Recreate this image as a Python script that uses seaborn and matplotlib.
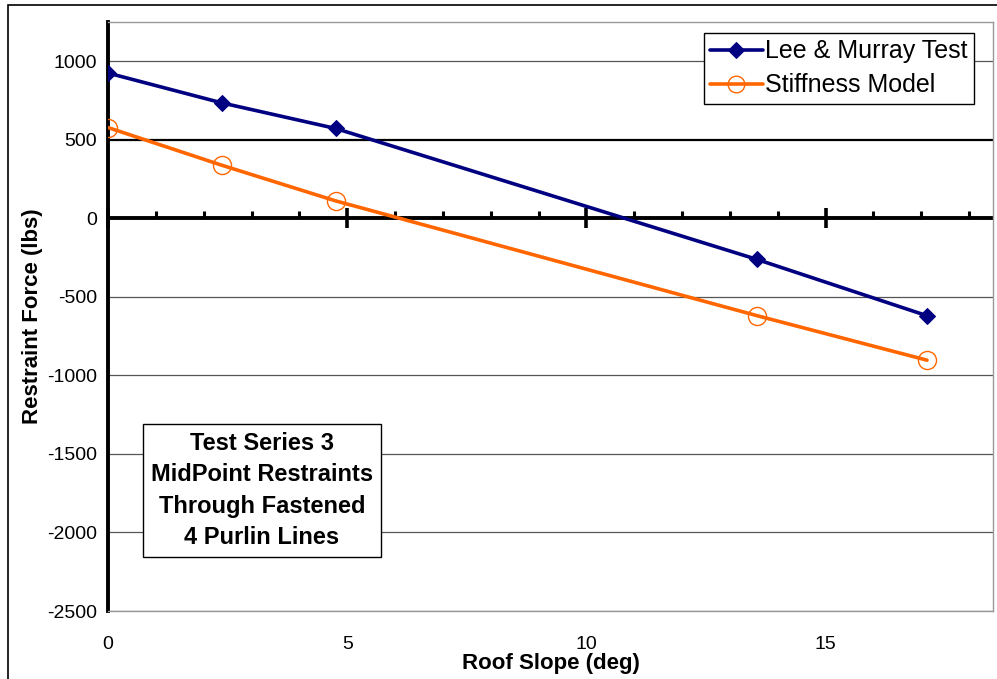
import numpy as np
import pandas as pd
import seaborn as sns
import matplotlib.pyplot as plt
from matplotlib.ticker import MultipleLocator
from matplotlib.patches import Rectangle

# values
slope_deg = [0, 2.38, 4.76, 13.57, 17.12]
lee_murray = [925, 735, 572, -262, -620]
stiffness = [578, 338, 111, -620, -903]
series_names = ["Lee & Murray Test", "Stiffness Model"]
y_ticks = [-2500, -2000, -1500, -1000, -500, 0, 500, 1000]
x_ticks = [0, 5, 10, 15]
note_text = "Test Series 3\nMidPoint Restraints\nThrough Fastened\n4 Purlin Lines"

NAVY = "#000080"
ORANGE = "#FF6600"

df = pd.DataFrame({
    "slope": slope_deg * 2,
    "force": lee_murray + stiffness,
    "series": [series_names[0]] * len(slope_deg) + [series_names[1]] * len(slope_deg),
})

sns.set_style("white")
plt.rcParams["font.family"] = ["Liberation Sans", "DejaVu Sans"]
plt.rcParams["axes.unicode_minus"] = False
plt.rcParams["text.color"] = "black"
plt.rcParams["axes.labelcolor"] = "black"
plt.rcParams["xtick.color"] = "black"
plt.rcParams["ytick.color"] = "black"

fig = plt.figure(figsize=(9.97, 6.79), dpi=100)
ax = fig.add_axes([108 / 997, 1 - 611 / 679, 885 / 997, 589 / 679])

# outer chart border (only top and left are in view)
fig.patches.append(Rectangle((8 / 997, -0.1), 1.2, 1.1 - 5 / 679,
                             transform=fig.transFigure, fill=False,
                             edgecolor="black", linewidth=1.2))

ax.set_xlim(0, 18.5)
ax.set_ylim(-2500, 1250)

# gridlines, the 500 one is drawn heavier like in the original
for yv in y_ticks:
    if yv == 0:
        continue
    ax.axhline(yv, color="black" if yv == 500 else "#555555",
               linewidth=1.6 if yv == 500 else 0.9, zorder=1)
ax.axhline(0, color="black", linewidth=2.8, zorder=2)

sns.lineplot(data=df, x="slope", y="force", hue="series",
             palette={series_names[0]: NAVY, series_names[1]: ORANGE},
             linewidth=2.6, ax=ax, zorder=3, legend=True)


def style_line(ln):
    c = ln.get_color()
    if not isinstance(c, str):
        return
    if c.lower() == ORANGE.lower():
        ln.set_marker("o")
        ln.set_markersize(13)
        ln.set_markerfacecolor("none")
        ln.set_markeredgecolor(ORANGE)
        ln.set_markeredgewidth(1.0)
    elif c.lower() == NAVY.lower():
        ln.set_marker("D")
        ln.set_markersize(8.5)
        ln.set_markerfacecolor(NAVY)
        ln.set_markeredgecolor(NAVY)


for ln in ax.lines:
    style_line(ln)

# axes spines
for s in ["top", "right", "bottom"]:
    ax.spines[s].set_color("#999999")
    ax.spines[s].set_linewidth(1.0)
ax.spines["left"].set_color("black")
ax.spines["left"].set_linewidth(2.8)

ax.set_yticks(y_ticks)
ax.set_xticks(x_ticks)
ax.tick_params(axis="y", direction="out", length=5, width=2.2, color="black",
               labelsize=14, pad=3)
ax.tick_params(axis="x", length=0, labelsize=14, pad=18)

# ticks on the zero line
sec = ax.secondary_xaxis(2500 / 3750)
sec.spines["bottom"].set_visible(False)
sec.spines["top"].set_visible(False)
sec.set_xticks(x_ticks)
sec.xaxis.set_minor_locator(MultipleLocator(1))
sec.tick_params(axis="x", which="major", direction="inout", length=15, width=2.6,
                labelbottom=False, labeltop=False, bottom=True, top=False)
sec.tick_params(axis="x", which="minor", direction="in", length=5, width=2.2,
                bottom=True, top=False)

ax.set_xlabel("Roof Slope (deg)", fontsize=16, fontweight="bold", labelpad=0)
ax.set_ylabel("Restraint Force (lbs)", fontsize=16, fontweight="bold", labelpad=3)

handles, labels = ax.get_legend_handles_labels()
for h in handles:
    style_line(h)
    if h.get_marker() == "o":
        h.set_markersize(12)
leg = ax.legend(handles, labels, loc="upper right", bbox_to_anchor=(0.9785, 0.981),
                fontsize=18, frameon=True, fancybox=False, edgecolor="black",
                framealpha=1, borderpad=0.25, handlelength=2.1, handletextpad=0.1,
                labelspacing=0.4, borderaxespad=0)
leg.get_frame().set_linewidth(1.0)

ax.text(3.22, -1733, note_text, ha="center", va="center", fontsize=17,
        fontweight="bold", linespacing=1.45, zorder=5,
        bbox=dict(boxstyle="square,pad=0.35", facecolor="white", edgecolor="black",
                  linewidth=1.0))

fig.savefig("out.png", dpi=100)
